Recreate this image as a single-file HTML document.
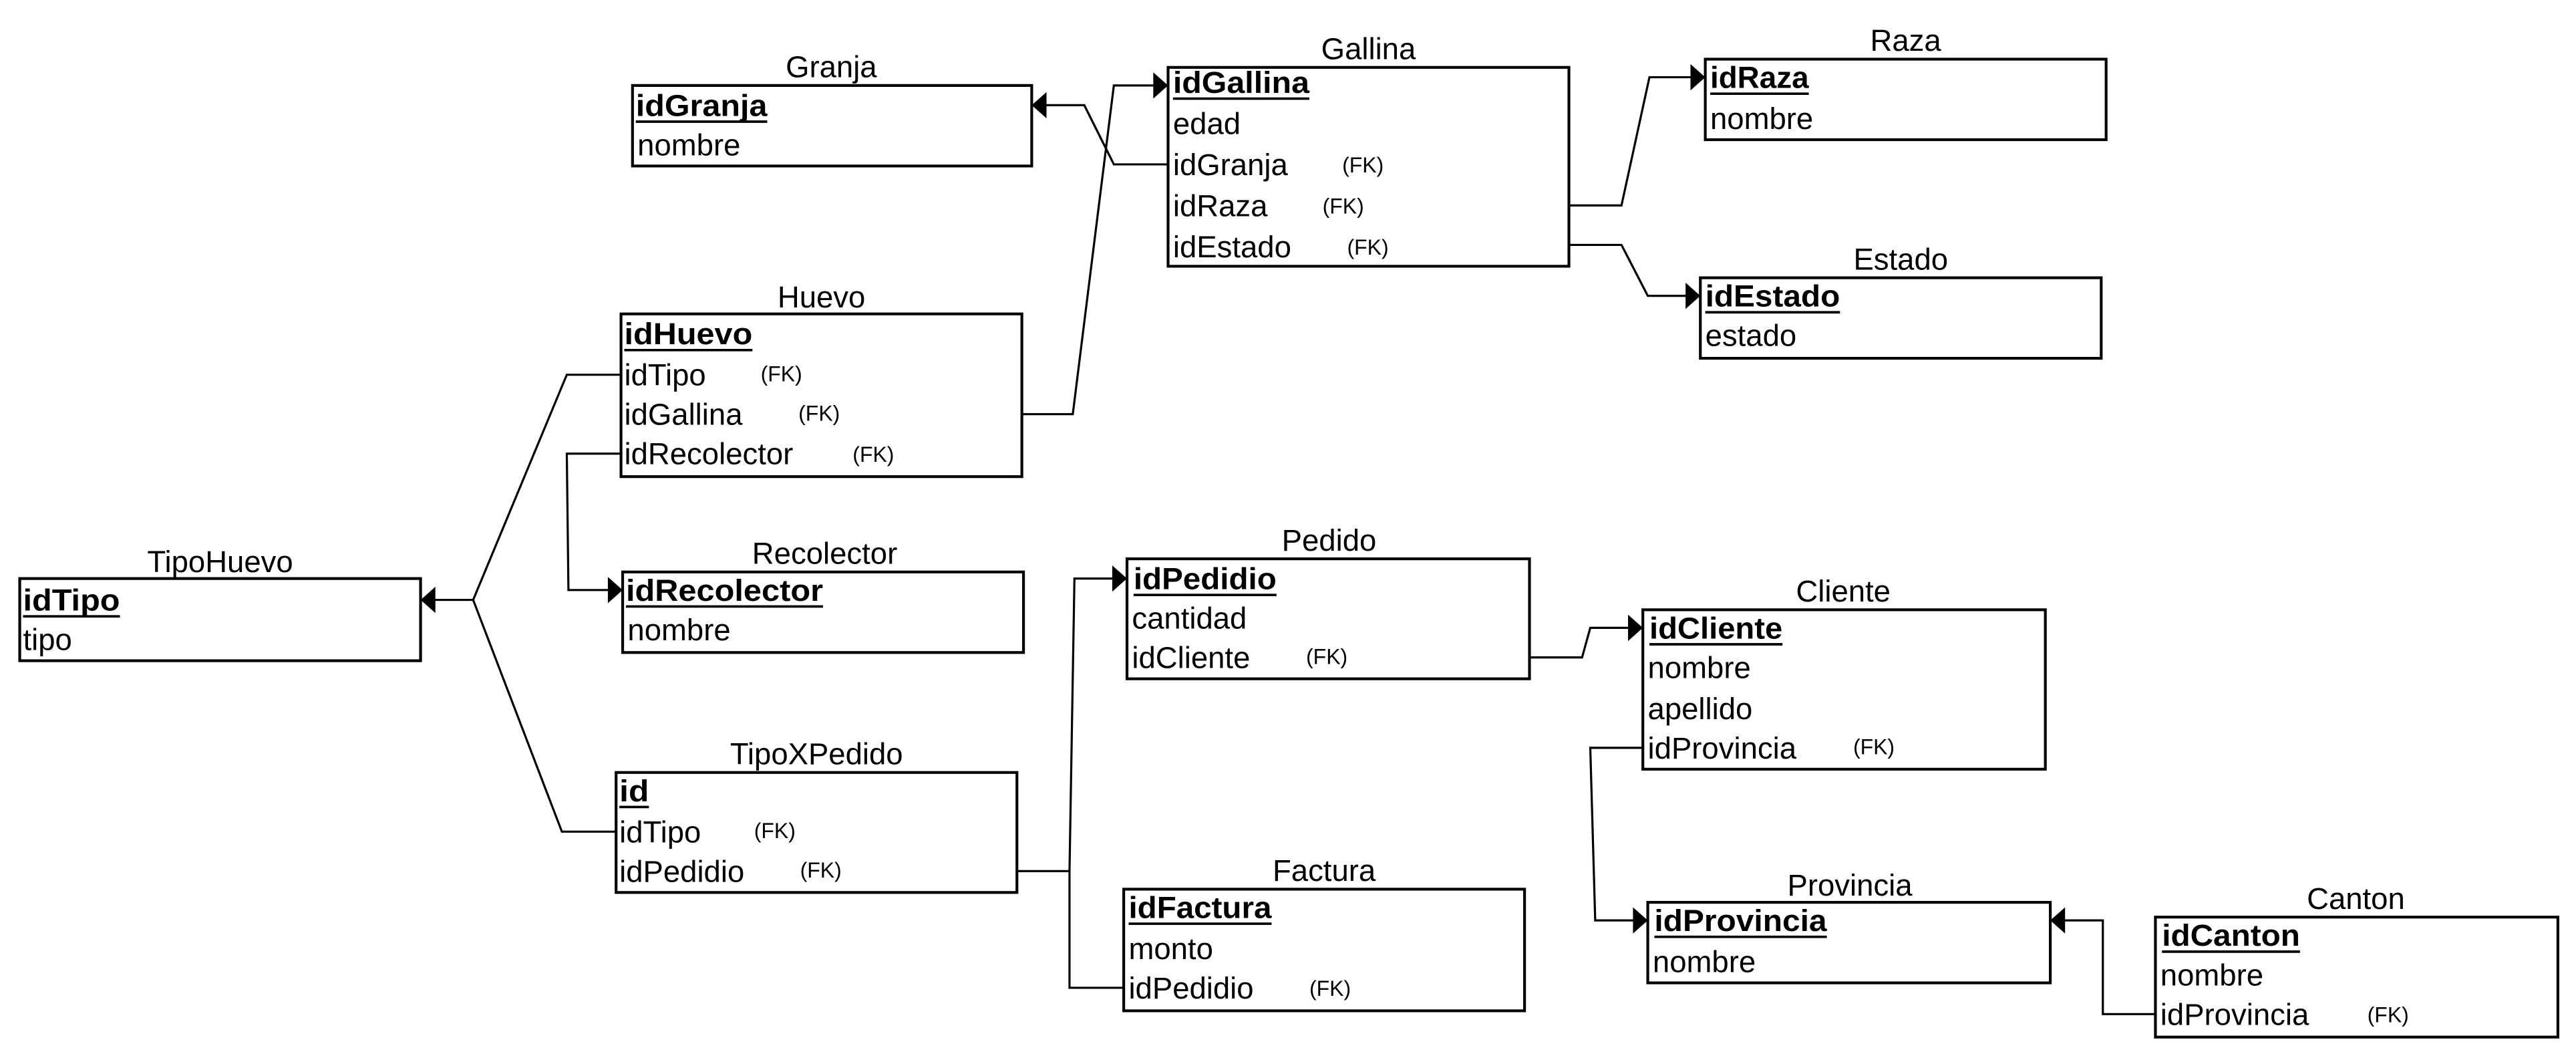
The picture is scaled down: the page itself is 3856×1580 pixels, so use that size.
<!DOCTYPE html>
<html><head><meta charset="utf-8"><style>html,body{margin:0;padding:0;background:#fff}svg{display:block}text{font-family:"Liberation Sans",Arial,sans-serif}</style></head>
<body>
<svg width="3856" height="1580" viewBox="0 0 1568 642.5" xmlns="http://www.w3.org/2000/svg">
<rect width="1568" height="642.5" fill="#fff"/>
<g fill="none" stroke="#000" stroke-width="1.7">
<rect x="385" y="52" width="243" height="49"/>
<rect x="711" y="41" width="244" height="121"/>
<rect x="1038" y="36" width="244" height="49"/>
<rect x="1035" y="169" width="244" height="49"/>
<rect x="378" y="191" width="244" height="99"/>
<rect x="12" y="352" width="244" height="50"/>
<rect x="379" y="348" width="244" height="49"/>
<rect x="375" y="470" width="244" height="73"/>
<rect x="686" y="340" width="245" height="73"/>
<rect x="684" y="541" width="244" height="74"/>
<rect x="1000" y="371" width="245" height="97"/>
<rect x="1003" y="549" width="245" height="49"/>
<rect x="1312" y="558" width="245" height="73"/>
</g>
<g fill="none" stroke="#000" stroke-width="1.3">
<polyline points="622,252 653,252 678,52 705,52"/>
<polyline points="711,100 678,100 660,64 634,64"/>
<polyline points="955,125 987,125 1004,47 1032,47"/>
<polyline points="955,149 987,149 1003,180 1029,180"/>
<polyline points="378,228 345,228 288,365 262,365"/>
<polyline points="375,506 342,506 288,365"/>
<polyline points="378,276 345,276 346,359 373,359"/>
<polyline points="619,530 651,530 654,352 680,352"/>
<polyline points="684,601 651,601 651,530"/>
<polyline points="931,400 963,400 968,382 994,382"/>
<polyline points="1000,455 968,455 971,560 997,560"/>
<polyline points="1312,617 1280,617 1280,560 1254,560"/>
</g>
<g fill="#000">
<polygon points="711,52 702,44 702,60"/>
<polygon points="628,64 637,56 637,72"/>
<polygon points="1038,47 1029,39 1029,55"/>
<polygon points="1035,180 1026,172 1026,188"/>
<polygon points="256,365 265,357 265,373"/>
<polygon points="379,359 370,351 370,367"/>
<polygon points="686,352 677,344 677,360"/>
<polygon points="1000,382 991,374 991,390"/>
<polygon points="1003,560 994,552 994,568"/>
<polygon points="1248,560 1257,552 1257,568"/>
</g>
<g font-size="18.5" text-anchor="middle">
<text x="506" y="47">Granja</text>
<text x="833" y="36">Gallina</text>
<text x="1160" y="31">Raza</text>
<text x="1157" y="164">Estado</text>
<text x="500" y="187">Huevo</text>
<text x="134" y="348">TipoHuevo</text>
<text x="502" y="343">Recolector</text>
<text x="497" y="465">TipoXPedido</text>
<text x="809" y="335">Pedido</text>
<text x="806" y="536">Factura</text>
<text x="1122" y="366">Cliente</text>
<text x="1126" y="545">Provincia</text>
<text x="1434" y="553">Canton</text>
</g>
<g font-size="18.5" font-weight="bold">
<text x="387" y="70.5" textLength="80" lengthAdjust="spacingAndGlyphs">idGranja</text>
<text x="714" y="56.5" textLength="83" lengthAdjust="spacingAndGlyphs">idGallina</text>
<text x="1041" y="53.5" textLength="60" lengthAdjust="spacingAndGlyphs">idRaza</text>
<text x="1038" y="186.5" textLength="82" lengthAdjust="spacingAndGlyphs">idEstado</text>
<text x="380" y="209.5" textLength="78" lengthAdjust="spacingAndGlyphs">idHuevo</text>
<text x="14" y="371.5" textLength="59" lengthAdjust="spacingAndGlyphs">idTipo</text>
<text x="381" y="365.5" textLength="120" lengthAdjust="spacingAndGlyphs">idRecolector</text>
<text x="377" y="487.5" textLength="18" lengthAdjust="spacingAndGlyphs">id</text>
<text x="690" y="358.5" textLength="87" lengthAdjust="spacingAndGlyphs">idPedidio</text>
<text x="687" y="558.5" textLength="87" lengthAdjust="spacingAndGlyphs">idFactura</text>
<text x="1004" y="388.5" textLength="81" lengthAdjust="spacingAndGlyphs">idCliente</text>
<text x="1007" y="566.5" textLength="105" lengthAdjust="spacingAndGlyphs">idProvincia</text>
<text x="1316" y="575.5" textLength="84" lengthAdjust="spacingAndGlyphs">idCanton</text>
</g>
<g stroke="#000" stroke-width="1.5">
<line x1="387" y1="74" x2="467" y2="74"/>
<line x1="714" y1="60" x2="797" y2="60"/>
<line x1="1041" y1="57" x2="1101" y2="57"/>
<line x1="1038" y1="190" x2="1120" y2="190"/>
<line x1="380" y1="213" x2="458" y2="213"/>
<line x1="14" y1="375" x2="73" y2="375"/>
<line x1="381" y1="369" x2="501" y2="369"/>
<line x1="377" y1="491" x2="395" y2="491"/>
<line x1="690" y1="362" x2="777" y2="362"/>
<line x1="687" y1="562" x2="774" y2="562"/>
<line x1="1004" y1="392" x2="1085" y2="392"/>
<line x1="1007" y1="570" x2="1112" y2="570"/>
<line x1="1316" y1="579" x2="1400" y2="579"/>
</g>
<g font-size="18.5">
<text x="388" y="94.5">nombre</text>
<text x="714" y="81.5">edad</text>
<text x="714" y="106.5">idGranja</text>
<text x="714" y="131.5">idRaza</text>
<text x="714" y="156.5">idEstado</text>
<text x="1041" y="78.5">nombre</text>
<text x="1038" y="210.5">estado</text>
<text x="380" y="234.5">idTipo</text>
<text x="380" y="258.5">idGallina</text>
<text x="380" y="282.5">idRecolector</text>
<text x="14" y="395.5">tipo</text>
<text x="382" y="389.5">nombre</text>
<text x="377" y="512.5">idTipo</text>
<text x="377" y="536.5">idPedidio</text>
<text x="689" y="382.5">cantidad</text>
<text x="689" y="406.5">idCliente</text>
<text x="687" y="583.5">monto</text>
<text x="687" y="607.5">idPedidio</text>
<text x="1003" y="412.5">nombre</text>
<text x="1003" y="437.5">apellido</text>
<text x="1003" y="461.5">idProvincia</text>
<text x="1006" y="591.5">nombre</text>
<text x="1315" y="599.5">nombre</text>
<text x="1315" y="623.5">idProvincia</text>
</g>
<g font-size="13">
<text x="817" y="105">(FK)</text>
<text x="805" y="130">(FK)</text>
<text x="820" y="155">(FK)</text>
<text x="463" y="232">(FK)</text>
<text x="486" y="256">(FK)</text>
<text x="519" y="281">(FK)</text>
<text x="459" y="510">(FK)</text>
<text x="487" y="534">(FK)</text>
<text x="795" y="404">(FK)</text>
<text x="797" y="606">(FK)</text>
<text x="1128" y="459">(FK)</text>
<text x="1441" y="622">(FK)</text>
</g>
</svg>
</body></html>
